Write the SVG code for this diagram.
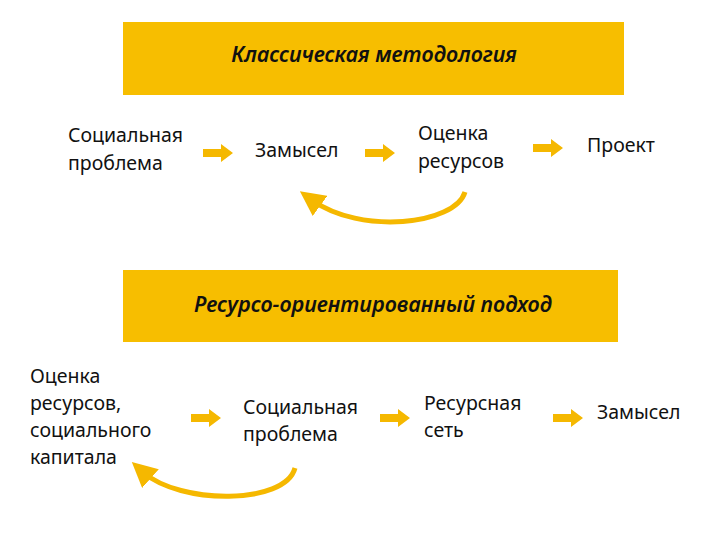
<svg xmlns="http://www.w3.org/2000/svg" width="720" height="540" viewBox="0 0 720 540">
<style>
.box{fill:#F7BE00}
.t{font-family:"Noto Sans","Liberation Sans",sans-serif;font-size:19.5px;fill:#111}
.h{font-family:"Noto Sans","Liberation Sans",sans-serif;font-size:21.5px;font-style:italic;font-weight:600;fill:#111}
.ba{fill:#F5B800}
.c{fill:none;stroke:#F5B800;stroke-width:5}
</style>
<defs>
<path id="ba" d="M0,-4 H18 V-9 L30,0 L18,9 V4 H0 Z"/>
<marker id="ah" markerWidth="5" markerHeight="5" refX="2" refY="2.5" orient="auto"><path d="M0,0 L5,2.5 L0,5 Z" fill="#F5B800"/></marker>
</defs>
<g id="header1"><rect class="box" x="123" y="22" width="501" height="73"/><text class="h" x="374" y="62" text-anchor="middle">Классическая методология</text></g>
<g id="n1"><text class="t" x="68" y="142">Социальная</text><text class="t" x="68" y="170">проблема</text></g>
<g id="n2"><text class="t" x="255" y="157">Замысел</text></g>
<g id="n3"><text class="t" x="418" y="140">Оценка</text><text class="t" x="418" y="168">ресурсов</text></g>
<g id="n4"><text class="t" x="587" y="152">Проект</text></g>
<g id="header2"><rect class="box" x="123" y="270" width="495" height="72"/><text class="h" x="373" y="312" text-anchor="middle">Ресурсо-ориентированный подход</text></g>
<g id="m1"><text class="t" x="30" y="383">Оценка</text><text class="t" x="30" y="410">ресурсов,</text><text class="t" x="30" y="437">социального</text><text class="t" x="30" y="464">капитала</text></g>
<g id="m2"><text class="t" x="243" y="414">Социальная</text><text class="t" x="243" y="441">проблема</text></g>
<g id="m3"><text class="t" x="424" y="410">Ресурсная</text><text class="t" x="424" y="437">сеть</text></g>
<g id="m4"><text class="t" x="597" y="419">Замысел</text></g>
<g id="connectors">
<use href="#ba" class="ba" x="203" y="153"/>
<use href="#ba" class="ba" x="365" y="153"/>
<use href="#ba" class="ba" x="533" y="148"/>
<use href="#ba" class="ba" x="191" y="418"/>
<use href="#ba" class="ba" x="380" y="418"/>
<use href="#ba" class="ba" x="553" y="418"/>
<path class="c" d="M465,192 C455,225 360,235 312,200" marker-end="url(#ah)"/>
<path class="c" d="M295,468 C285,505 180,505 143,472" marker-end="url(#ah)"/>
</g>
</svg>
